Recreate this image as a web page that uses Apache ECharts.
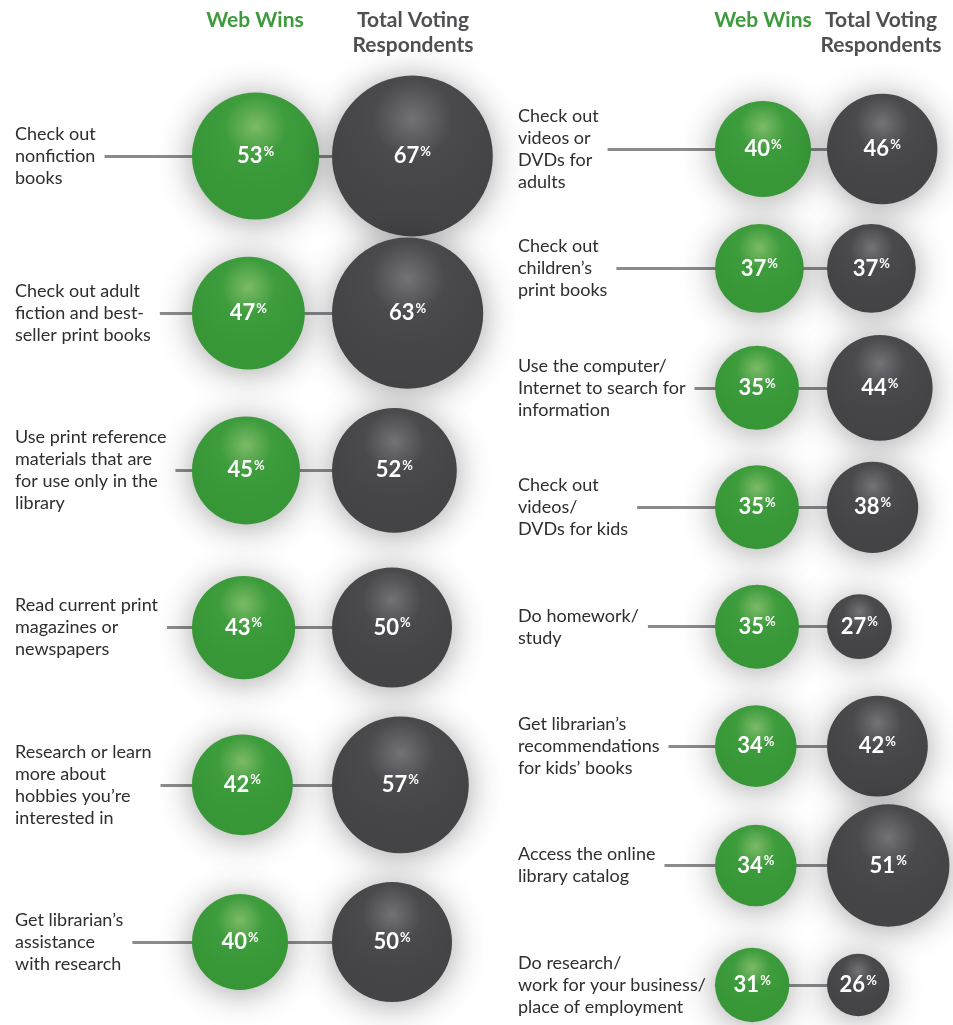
<!DOCTYPE html>
<html>
<head>
<meta charset="utf-8">
<script src="https://cdn.jsdelivr.net/npm/echarts@6/dist/echarts.min.js"></script>
<style>
    html, body { margin: 0; padding: 0; background: #ffffff; }
    #myChart { width: 953px; height: 1025px; }
</style>
</head>
<body>
<div id="myChart"></div>
<script>
    // left column
    var leftCategories = [
        'Check out\nnonfiction\nbooks',
        'Check out adult\nfiction and best-\nseller print books',
        'Use print reference\nmaterials that are\nfor use only in the\nlibrary',
        'Read current print\nmagazines or\nnewspapers',
        'Research or learn\nmore about\nhobbies you\u2019re\ninterested in',
        'Get librarian\u2019s\nassistance\nwith research'
    ];
    var leftWebWins = [53, 47, 45, 43, 42, 40];
    var leftTotal = [67, 63, 52, 50, 57, 50];

    // right column
    var rightCategories = [
        'Check out\nvideos or\nDVDs for\nadults',
        'Check out\nchildren\u2019s\nprint books',
        'Use the computer/\nInternet to search for\ninformation',
        'Check out\nvideos/\nDVDs for kids',
        'Do homework/\nstudy',
        'Get librarian\u2019s\nrecommendations\nfor kids\u2019 books',
        'Access the online\nlibrary catalog',
        'Do research/\nwork for your business/\nplace of employment'
    ];
    var rightWebWins = [40, 37, 35, 35, 35, 34, 34, 31];
    var rightTotal = [46, 37, 44, 38, 27, 42, 51, 26];

    var headerWeb = 'Web Wins';
    var headerTotal = 'Total Voting\nRespondents';

    var FONT = "Lato, 'Noto Sans', sans-serif";
    var SCALE = 2.4; // bubble diameter in px per percent point

    var dom = document.getElementById('myChart');
    var myChart = echarts.init(dom);

    function bubbleColor(light, base, dark) {
        return {
            type: 'radial', x: 0.5, y: 0.27, r: 0.55,
            colorStops: [
                {offset: 0, color: light},
                {offset: 0.45, color: base},
                {offset: 1, color: dark}
            ]
        };
    }
    var greenFill = bubbleColor('#7cba67', '#3d9c3c', '#379737');
    var grayFill = bubbleColor('#727277', '#4a4a4d', '#444447');

    function pairs(arr) {
        return arr.map(function (v, i) { return [v, i]; });
    }

    function bubbles(values, fill, xi) {
        return {
            type: 'scatter',
            xAxisIndex: xi,
            yAxisIndex: xi,
            clip: false,
            z: 3,
            data: pairs(values),
            symbolSize: function (d) { return d[0] * SCALE; },
            itemStyle: {
                color: fill,
                opacity: 1,
                shadowBlur: 34,
                shadowColor: 'rgba(0,0,0,0.36)',
                shadowOffsetY: 3
            },
            label: {
                show: true,
                position: 'inside',
                formatter: function (p) { return '{v|' + p.data[0] + '}{p|%}'; },
                rich: {
                    v: {fontFamily: FONT, fontSize: 22, fontWeight: 'bold', color: '#ffffff'},
                    p: {fontFamily: FONT, fontSize: 13, fontWeight: 'bold', color: '#ffffff', verticalAlign: 'top', padding: [0, 0, 0, 1]}
                }
            },
            emphasis: {disabled: true}
        };
    }

    // each column: a grid for the connector lines, one for green, one for gray
    var cols = [
        {cats: leftCategories, lineLeft: 15, lineWidth: 370, green: 192, gray: 332, top: 156, height: 786},
        {cats: rightCategories, lineLeft: 518, lineWidth: 337, green: 715, gray: 827, top: 149, height: 836}
    ];

    var grid = [], xAxis = [], yAxis = [];
    cols.forEach(function (c) {
        grid.push({left: c.lineLeft, width: c.lineWidth, top: c.top, height: c.height});
        grid.push({left: c.green, width: 120, top: c.top, height: c.height});
        grid.push({left: c.gray, width: 120, top: c.top, height: c.height});
        for (var k = 0; k < 3; k++) {
            xAxis.push({type: 'value', gridIndex: grid.length - 3 + k, min: 0, max: 100, show: false});
        }
        // connector lines
        yAxis.push({
            type: 'category', gridIndex: grid.length - 3, data: c.cats, inverse: true, boundaryGap: false, z: 0,
            axisLine: {show: false}, axisTick: {show: false},
            axisLabel: {show: false, interval: 0},
            splitLine: {show: true, interval: 0, lineStyle: {color: '#8b8b8e', width: 3}}
        });
        // row labels
        yAxis.push({
            type: 'category', gridIndex: grid.length - 2, data: c.cats, inverse: true, boundaryGap: false, z: 1,
            axisLine: {show: false}, axisTick: {show: false}, splitLine: {show: false},
            axisLabel: {
                interval: 0, align: 'left', verticalAlign: 'middle',
                margin: c.green - c.lineLeft,
                fontFamily: FONT, fontSize: 18, lineHeight: 22, color: '#2e2e30',
                backgroundColor: '#ffffff', padding: [2, 9, 2, 0]
            }
        });
        yAxis.push({
            type: 'category', gridIndex: grid.length - 1, data: c.cats, inverse: true, boundaryGap: false, show: false
        });
    });

    function header(text, x, y, color) {
        return {
            type: 'text', x: x, y: y, silent: true,
            style: {
                text: text, fill: color, align: 'center', verticalAlign: 'middle',
                font: 'bold 21px ' + FONT, lineHeight: 25
            }
        };
    }

    var option = {
        animation: false,
        backgroundColor: '#ffffff',
        grid: grid,
        xAxis: xAxis,
        yAxis: yAxis,
        graphic: [
            header(headerWeb, 255, 20, '#3d9a3d'),
            header(headerTotal, 413, 33, '#505053'),
            header(headerWeb, 763, 20, '#3d9a3d'),
            header(headerTotal, 881, 33, '#505053')
        ],
        series: [
            bubbles(leftWebWins, greenFill, 1),
            bubbles(leftTotal, grayFill, 2),
            bubbles(rightWebWins, greenFill, 4),
            bubbles(rightTotal, grayFill, 5)
        ]
    };

    myChart.setOption(option);
</script>
</body>
</html>
